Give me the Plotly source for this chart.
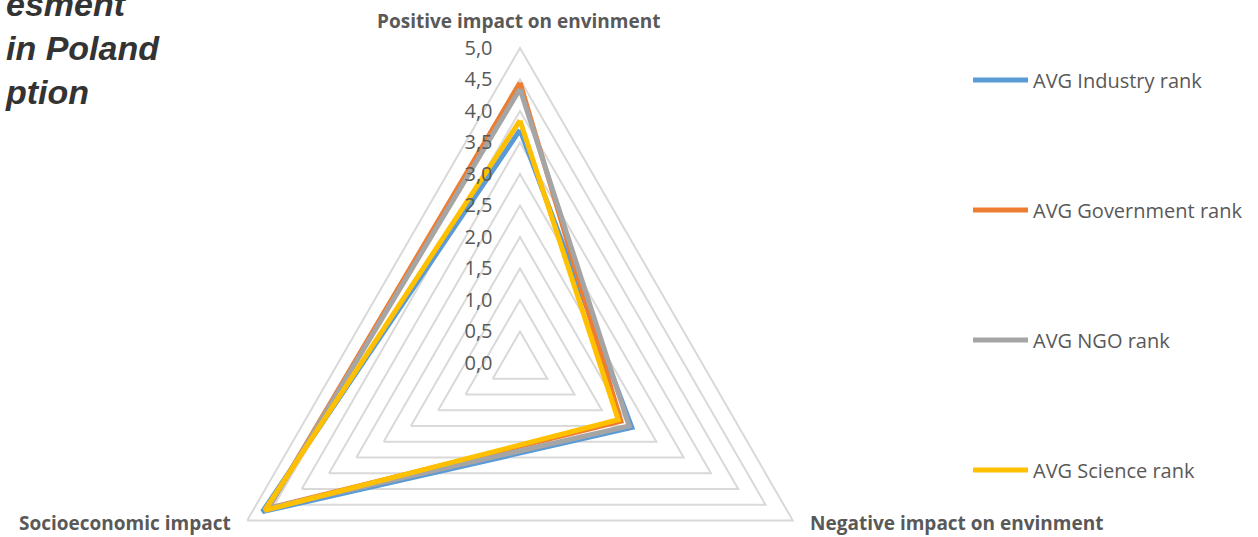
import plotly.graph_objects as go

# ---- data ----
axes_labels = ["Positive impact on envinment", "Negative impact on envinment", "Socioeconomic impact"]
series_names = ["AVG Industry rank", "AVG Government rank", "AVG NGO rank", "AVG Science rank"]
industry = [3.7, 2.05, 4.72]
government = [4.45, 1.85, 4.62]
ngo = [4.35, 2.0, 4.62]
science = [3.85, 1.8, 4.68]
radial_ticks = [0, 0.5, 1.0, 1.5, 2.0, 2.5, 3.0, 3.5, 4.0, 4.5, 5.0]
radial_tick_text = ["0,0", "0,5", "1,0", "1,5", "2,0", "2,5", "3,0", "3,5", "4,0", "4,5", "5,0"]
title_lines = ["esment", "in Poland", "ption"]

colors = ["#5B9BD5", "#ED7D31", "#A5A5A5", "#FFC000"]
values = [industry, government, ngo, science]

W, H = 1258, 680


def px(x):
    return x / W


def py(y):
    return 1 - y / H


fig = go.Figure()
legend_ids = ["legend", "legend2", "legend3", "legend4"]
for name, vals, col, lg in zip(series_names, values, colors, legend_ids):
    fig.add_trace(go.Scatterpolar(
        r=vals + [vals[0]],
        theta=axes_labels + [axes_labels[0]],
        mode="lines",
        name=name,
        line=dict(color=col, width=5),
        legend=lg,
    ))

cx, cy, R = 520, 363, 315
legend_rows = [80, 210, 340, 470]
legend_common = dict(
    font=dict(family="Open Sans", size=20, color="#595959"),
    bgcolor="rgba(0,0,0,0)",
    xanchor="left",
    yanchor="middle",
    x=px(968),
    itemwidth=55,
)

layout_legends = {}
for lg, row in zip(legend_ids, legend_rows):
    layout_legends[lg] = dict(legend_common, y=py(row))

annotations = []
lab_font = dict(family="Open Sans", size=19, color="#595959", weight="bold")
annotations.append(dict(text=axes_labels[0], x=px(518), y=py(21), xref="paper", yref="paper",
                        xanchor="center", yanchor="middle", showarrow=False, font=lab_font))
annotations.append(dict(text=axes_labels[2], x=px(125), y=py(523), xref="paper", yref="paper",
                        xanchor="center", yanchor="middle", showarrow=False, font=lab_font))
annotations.append(dict(text=axes_labels[1], x=px(956), y=py(523), xref="paper", yref="paper",
                        xanchor="center", yanchor="middle", showarrow=False, font=lab_font))

title_font = dict(family="Liberation Sans", size=34, color="#333333", weight="bold", style="italic")
annotations.append(dict(text="<br>".join(title_lines), x=px(3), y=py(48), xref="paper", yref="paper",
                        xanchor="left", yanchor="middle", align="left", showarrow=False,
                        font=title_font))

fig.update_layout(
    width=W,
    height=H,
    margin=dict(l=0, r=0, t=0, b=0),
    paper_bgcolor="white",
    plot_bgcolor="white",
    showlegend=True,
    annotations=annotations,
    polar=dict(
        domain=dict(x=[px(cx - R), px(cx + R)], y=[py(cy + R), py(cy - R)]),
        gridshape="linear",
        bgcolor="white",
        radialaxis=dict(
            range=[0, 5],
            tickvals=radial_ticks,
            ticktext=radial_tick_text,
            angle=90,
            tickangle=90,
            side="counterclockwise",
            showline=False,
            showgrid=True,
            gridcolor="#D9D9D9",
            gridwidth=2,
            ticks="outside",
            ticklen=20,
            tickcolor="rgba(0,0,0,0)",
            tickfont=dict(family="Open Sans", size=20, color="#595959"),
        ),
        angularaxis=dict(
            rotation=90,
            direction="clockwise",
            showgrid=False,
            showline=True,
            linecolor="#D9D9D9",
            linewidth=2,
            showticklabels=False,
            ticks="",
        ),
    ),
    **layout_legends,
)

fig.write_html(
    "out.html",
    post_script="document.documentElement.style.overflow='hidden';document.body.style.overflow='hidden';",
)
